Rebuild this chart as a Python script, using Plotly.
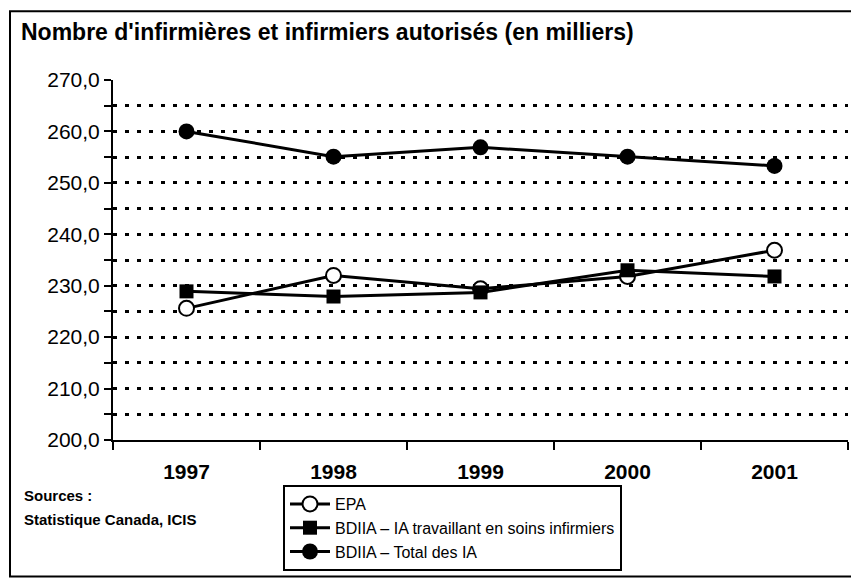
import plotly.graph_objects as go

# values (thousands)
years = ["1997", "1998", "1999", "2000", "2001"]
epa = [225.6, 232.0, 229.4, 231.8, 236.9]
bdiia_soins = [228.9, 227.9, 228.7, 233.0, 231.8]
bdiia_total = [260.0, 255.1, 256.9, 255.1, 253.3]

# the page puts the figure 8px in from the top-left corner
OFF = 8
W, H = 859 - OFF, 581 - OFF
L, R, T, B = 113 - OFF, 848 - OFF, 80 - OFF, 441 - OFF  # plot area


def px_x(x):
    return (x - OFF - L) / (R - L)


def px_y(y):
    return (B - (y - OFF)) / (B - T)


font = "Liberation Sans, Arial, sans-serif"

fig = go.Figure()
fig.add_trace(go.Scatter(
    x=years, y=epa, name="EPA", mode="lines+markers",
    line=dict(color="black", width=3),
    marker=dict(symbol="circle", size=15, color="white",
                line=dict(color="black", width=2)),
))
fig.add_trace(go.Scatter(
    x=years, y=bdiia_soins, name="BDIIA \u2013 IA travaillant en soins infirmiers",
    mode="lines+markers",
    line=dict(color="black", width=3),
    marker=dict(symbol="square", size=14, color="black"),
))
fig.add_trace(go.Scatter(
    x=years, y=bdiia_total, name="BDIIA \u2013 Total des IA",
    mode="lines+markers",
    line=dict(color="black", width=3),
    marker=dict(symbol="circle", size=16, color="black"),
))

# outer frame
fig.add_shape(type="rect", xref="paper", yref="paper",
              x0=px_x(10), x1=px_x(857), y0=px_y(578), y1=px_y(11),
              line=dict(color="black", width=2), layer="below")

fig.add_annotation(xref="paper", yref="paper", x=px_x(22), y=px_y(497),
                   xanchor="left", yanchor="middle", showarrow=False,
                   text="<b>Sources :</b>", font=dict(size=15, color="black", family=font))
fig.add_annotation(xref="paper", yref="paper", x=px_x(22), y=px_y(521),
                   xanchor="left", yanchor="middle", showarrow=False,
                   text="<b>Statistique Canada, ICIS</b>", font=dict(size=15, color="black", family=font))

fig.update_layout(
    width=W, height=H,
    margin=dict(l=L, r=W - R, t=T, b=H - B),
    paper_bgcolor="white", plot_bgcolor="white",
    separators=", ",
    font=dict(family=font, color="black"),
    title=dict(text="<b>Nombre d'infirmières et infirmiers autorisés (en milliers)</b>",
               x=(21 - OFF) / W, xanchor="left", xref="container",
               y=1 - (32 - OFF) / H, yanchor="middle", yref="container",
               font=dict(size=23, color="black", family=font)),
    showlegend=True,
    legend=dict(x=px_x(283), y=px_y(485), xanchor="left", yanchor="top",
                bordercolor="black", borderwidth=2, bgcolor="white",
                font=dict(size=16, color="black", family=font),
                itemwidth=40, tracegroupgap=0),
    xaxis=dict(
        type="category", range=[-0.5, 4.5],
        showline=True, linecolor="black", linewidth=2,
        ticks="outside", tickson="boundaries", ticklen=8, tickwidth=2, tickcolor="black",
        showgrid=False, zeroline=False,
        tickfont=dict(size=21, color="black", family=font),
        tickprefix="<b>", ticksuffix="</b>",
        ticklabelstandoff=12,
    ),
    yaxis=dict(
        range=[200, 270], dtick=10, tickformat=".1f",
        showline=True, linecolor="black", linewidth=2,
        ticks="outside", ticklen=7, tickwidth=2, tickcolor="black",
        showgrid=True, gridcolor="black", gridwidth=3, griddash="4px,8px",
        zeroline=False,
        tickfont=dict(size=21, color="black", family=font),
        minor=dict(dtick=5, showgrid=True, gridcolor="black", gridwidth=3,
                   griddash="4px,8px", ticks="outside", ticklen=7, tickwidth=2,
                   tickcolor="black"),
    ),
)

fig.write_html("out.html")
